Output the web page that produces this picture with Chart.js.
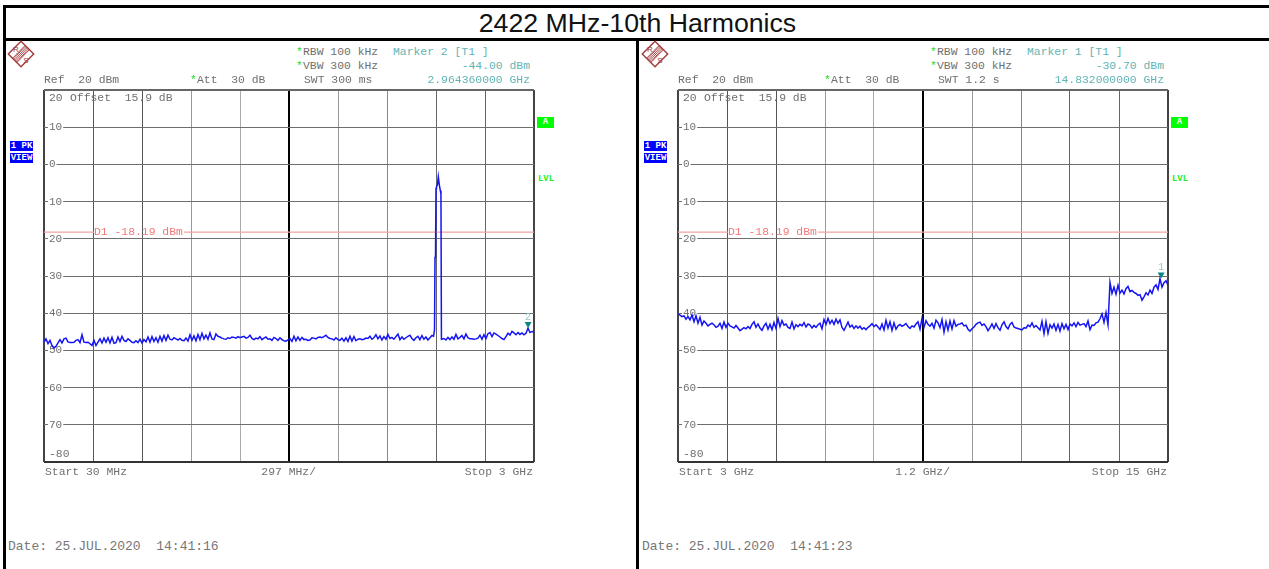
<!DOCTYPE html>
<html>
<head>
<meta charset="utf-8">
<title>2422 MHz-10th Harmonics</title>
<script src="https://cdn.jsdelivr.net/npm/chart.js@4/dist/chart.umd.min.js"></script>
<style>
    html, body { margin: 0; padding: 0; background: #fff; overflow: hidden; }
    #page { position: relative; width: 1269px; height: 569px; overflow: hidden; }
    .bar { position: absolute; background: #000; }
    #title { position: absolute; left: 0; width: 1275px; top: 8px; height: 30px; text-align: center;
        font: 26.7px/31px "Liberation Sans", Arial, sans-serif; color: #111; }
    .txt { position: absolute; white-space: pre; height: 14px; line-height: 14px; font-family: "Liberation Mono", monospace; font-size: 11.4px; color: #707070; }
    .date { font-size: 13px; color: #777; }
    .badge { position: absolute; text-align: center; font: bold 9px/10px "Liberation Mono", monospace; }
    canvas { position: absolute; }
    svg { position: absolute; }
</style>
</head>
<body>
<div id="page">
    <div class="bar" style="left:3px;top:5px;width:1266px;height:3px"></div>
    <div class="bar" style="left:3px;top:38px;width:1266px;height:3px"></div>
    <div class="bar" style="left:3px;top:5px;width:3px;height:564px"></div>
    <div class="bar" style="left:636px;top:38px;width:3px;height:531px"></div>
    <div id="title">2422 MHz-10th Harmonics</div>
</div>
<script>
// level readings in dBm, one every 2 px of the trace

// left sweep, up to the carrier
const leftLowLevels = [
    -47.8,-46.9,-48.2,-47.3,-48.7,-49.4,-48.9,-48.0,-47.1,-48.0,
    -46.9,-46.7,-47.7,-47.9,-47.9,-47.8,-47.3,-47.1,-47.9,-45.8,
    -47.8,-47.9,-47.8,-48.2,-48.7,-47.3,-48.7,-47.8,-46.9,-48.0,
    -46.7,-47.8,-46.6,-48.0,-46.5,-48.1,-47.9,-46.4,-47.6,-46.2,
    -47.3,-47.6,-46.9,-47.3,-47.8,-47.9,-47.4,-47.9,-47.0,-48.0,
    -47.1,-47.7,-46.4,-47.8,-46.3,-47.6,-46.6,-47.8,-46.2,-47.5,
    -46.0,-47.3,-45.9,-47.0,-47.2,-46.6,-46.9,-47.2,-46.8,-47.3,
    -47.4,-46.7,-47.5,-45.8,-47.3,-46.1,-47.4,-45.7,-47.1,-45.4,
    -46.9,-45.9,-47.0,-45.3,-46.9,-47.1,-45.6,-46.2,-46.4,-46.7,
    -46.9,-47.0,-46.6,-46.8,-46.4,-46.5,-46.7,-46.3,-46.6,-46.4,
    -46.2,-46.7,-46.5,-45.9,-46.8,-47.1,-46.7,-46.9,-46.3,-47.1,
    -46.7,-46.4,-47.0,-46.9,-47.3,-46.5,-46.8,-47.3,-46.6,-47.1,
    -47.4,-47.5,-47.2,-46.8,-47.6,-46.2,-47.4,-46.4,-47.3,-46.5,
    -47.1,-47.0,-47.3,-47.2,-46.6,-46.7,-46.9,-46.5,-46.4,-46.6,
    -46.3,-45.9,-46.5,-46.8,-46.9,-47.2,-46.6,-47.1,-47.3,-46.7,
    -47.5,-46.6,-47.6,-46.2,-47.5,-46.3,-47.4,-47.0,-46.9,-47.1,
    -47.0,-46.7,-46.8,-46.2,-47.0,-46.6,-45.8,-46.9,-46.1,-47.2,
    -46.3,-47.0,-45.7,-46.8,-46.5,-47.0,-46.3,-45.6,-47.1,-46.4,
    -47.0,-46.6,-46.2,-45.9,-46.8,-47.3,-46.6,-46.2,-47.1,-46.0,
    -47.0,-46.4,-47.2,-46.6,-46.0
];

// the carrier itself
const peakFreqs = [2391, 2397, 2400, 2403, 2406, 2409, 2414, 2420, 2426, 2432, 2436, 2439];
const peakLevels = [-46.2, -44.5, -25, -24.5, -6.5, -6.0, -5.6, -3.3, -5.5, -7.0, -8.0, -47.0];

// left sweep, above the carrier
const leftHighLevels = [
    -47.0,-46.8,-47.2,-46.5,-47.1,-46.4,-47.0,-45.7,-46.9,-46.5,
    -46.0,-46.9,-45.6,-46.6,-46.9,-46.9,-47.0,-46.9,-46.7,-45.9,
    -47.0,-45.8,-46.8,-45.5,-45.2,-46.3,-45.3,-45.6,-46.0,-46.4,
    -46.8,-47.1,-46.3,-45.4,-45.9,-44.9,-45.3,-45.8,-45.2,-45.7,
    -45.3,-45.8,-45.4,-44.0,-45.2,-44.9,-45.0
];

// right sweep
const rightLevels = [
    -40.2,-40.5,-40.9,-40.7,-41.6,-40.9,-41.8,-40.5,-42.3,-40.7,
    -42.7,-41.1,-43.2,-42.1,-42.7,-43.4,-43.0,-42.7,-43.1,-43.8,
    -43.5,-42.7,-44.1,-42.4,-43.8,-42.7,-43.4,-43.7,-44.0,-43.3,
    -44.0,-44.7,-44.3,-43.9,-44.2,-43.6,-44.1,-43.0,-42.3,-43.8,
    -42.9,-44.0,-44.6,-43.4,-42.7,-44.3,-43.0,-44.4,-42.5,-44.1,
    -41.4,-43.6,-42.0,-43.2,-42.9,-43.8,-44.1,-42.4,-44.2,-43.1,
    -43.6,-43.0,-43.4,-42.5,-43.7,-42.9,-43.2,-44.0,-43.3,-43.8,
    -43.1,-42.7,-44.2,-41.7,-43.0,-41.4,-42.8,-41.9,-43.0,-41.6,
    -42.7,-41.8,-43.8,-44.6,-43.5,-42.4,-43.7,-43.2,-44.1,-43.4,
    -44.0,-43.5,-44.3,-43.9,-44.4,-43.8,-43.4,-42.8,-43.6,-43.1,
    -43.7,-44.4,-42.9,-44.5,-41.9,-44.0,-42.3,-44.6,-42.6,-44.3,
    -43.4,-43.0,-43.5,-43.2,-42.8,-43.6,-44.1,-43.4,-43.7,-42.9,
    -42.3,-44.3,-41.4,-43.8,-42.0,-43.0,-43.5,-42.7,-44.0,-41.9,
    -42.6,-43.9,-41.7,-45.1,-42.3,-44.5,-42.1,-44.2,-42.0,-43.5,
    -43.0,-42.9,-42.6,-43.4,-43.2,-44.3,-44.8,-44.2,-43.7,-43.0,
    -42.6,-42.4,-43.3,-42.9,-43.6,-44.7,-43.9,-42.9,-44.1,-42.8,
    -43.9,-44.6,-43.1,-42.3,-43.6,-44.2,-43.0,-42.5,-43.7,-44.0,
    -44.1,-44.3,-44.5,-43.9,-44.0,-43.2,-43.6,-42.6,-43.8,-43.3,
    -43.9,-44.5,-42.2,-45.5,-42.3,-45.4,-43.1,-44.0,-42.9,-44.6,
    -43.0,-44.8,-42.8,-44.2,-43.0,-44.4,-42.9,-43.4,-42.6,-43.6,
    -42.5,-43.2,-43.0,-42.8,-43.6,-42.1,-44.4,-43.2,-43.3,-42.6,
    -42.4,-41.5,-40.2,-42.5,-39.8,-43.1,
    -31.7,-34.7,-33.0,-34.9,-32.5,-34.6,-33.8,-34.8,-33.4,-32.8,
    -34.2,-33.9,-34.4,-34.7,-35.2,-35.0,-36.5,-35.6,-34.5,-35.1,
    -33.8,-34.7,-33.0,-32.4,-33.6,-30.7,-33.0,-31.8,-31.3,-32.4
];

const yTickLabels = ['', '70', '60', '50', '40', '30', '20', '10', '0', '10', ''];
const displayLine = -18.19;

// helpers
const page = document.getElementById('page');

const addText = (x, y, str, color, cls) => {
    const el = document.createElement('div');
    el.className = 'txt' + (cls ? ' ' + cls : '');
    el.textContent = str;
    el.style.left = x + 'px';
    el.style.top = (y - 6) + 'px';
    if (color) el.style.color = color;
    page.appendChild(el);
    return el;
};

const addRight = (x, y, str, color) => {
    const el = addText(0, y, str, color);
    el.style.left = 'auto';
    el.style.right = (1269 - x) + 'px';
};

const addBadge = (x, y, w, h, str, bg, color) => {
    const el = document.createElement('div');
    el.className = 'badge';
    el.textContent = str;
    el.style.cssText += `left:${x}px;top:${y}px;width:${w}px;height:${h}px;line-height:${h}px;background:${bg};color:${color}`;
    page.appendChild(el);
};

const addLogo = (dx) => {
    const ns = 'http://www.w3.org/2000/svg';
    const svg = document.createElementNS(ns, 'svg');
    svg.setAttribute('width', 30);
    svg.setAttribute('height', 30);
    svg.style.left = (6 + dx) + 'px';
    svg.style.top = '39px';
    let stripes = '';
    for (let i = -9; i <= 9; i += 1.5) {
        stripes += `<line x1="${i}" y1="-3" x2="${i}" y2="3"/>`;
    }
    svg.innerHTML = `<g transform="translate(15 15) rotate(-45)" stroke="#a33a3a" fill="none">
        <rect x="-9" y="-9" width="18" height="18" stroke-width="1.4" fill="#fff"/>
        <g stroke-width="0.9">${stripes}</g>
        <line x1="-9" y1="-3" x2="9" y2="-3" stroke-width="0.8"/>
        <line x1="-9" y1="3" x2="9" y2="3" stroke-width="0.8"/>
    </g>
    <text x="10" y="13" font-size="8" font-family="Liberation Sans" fill="#a33a3a" text-anchor="middle">R</text>
    <text x="20" y="24" font-size="8" font-family="Liberation Sans" fill="#a33a3a" text-anchor="middle">S</text>`;
    page.appendChild(svg);
};

// draws the marker triangle with its tip on the reading, number above
const markerPlugin = {
    id: 'marker',
    afterDatasetsDraw(chart, args, opts) {
        const x = chart.scales.x.getPixelForValue(opts.freq);
        const y = chart.scales.y.getPixelForValue(opts.level);
        const ctx = chart.ctx;
        ctx.save();
        ctx.fillStyle = '#0b8585';
        ctx.beginPath();
        ctx.moveTo(x, y);
        ctx.lineTo(x - 3.5, y - 6);
        ctx.lineTo(x + 3.5, y - 6);
        ctx.closePath();
        ctx.fill();
        ctx.fillStyle = '#8fcaca';
        ctx.font = '10px "Liberation Mono"';
        ctx.textAlign = 'center';
        ctx.textBaseline = 'middle';
        ctx.fillText(opts.name, x, y - 11);
        ctx.restore();
    }
};

const noAxisPadding = (scale) => {
    scale.paddingTop = 0;
    scale.paddingBottom = 0;
    scale.paddingLeft = 0;
    scale.paddingRight = 0;
};

const showSweep = (cfg) => {
    const dx = cfg.dx;
    const canvas = document.createElement('canvas');
    canvas.width = 500;
    canvas.height = 382;
    canvas.style.left = (40 + dx) + 'px';
    canvas.style.top = '86px';
    page.appendChild(canvas);

    const vColors = ['#444', '#555', '#555', '#999', '#aaa', '#000', '#999', '#888', '#666', '#666', '#444'];

    new Chart(canvas, {
        type: 'line',
        plugins: [markerPlugin],
        data: {
            datasets: [
                {
                    data: cfg.trace,
                    borderColor: '#1414f5',
                    borderWidth: 1.5,
                    pointRadius: 0,
                    tension: 0,
                    order: 1
                },
                {
                    data: cfg.d1,
                    borderColor: '#f3a3a3',
                    borderWidth: 1.2,
                    pointRadius: 0,
                    spanGaps: false,
                    order: 2
                }
            ]
        },
        options: {
            responsive: false,
            animation: false,
            layout: { padding: { left: 4, top: 4, right: 6, bottom: 6 } },
            plugins: {
                legend: { display: false },
                title: { display: false },
                tooltip: { enabled: false },
                marker: { freq: cfg.markerFreq, level: cfg.markerLevel, name: cfg.markerName }
            },
            scales: {
                x: {
                    type: 'linear',
                    min: cfg.start,
                    max: cfg.stop,
                    afterFit: (scale) => { scale.height = 0; noAxisPadding(scale); },
                    border: { display: false },
                    ticks: { display: false, count: 11 },
                    grid: {
                        drawTicks: false,
                        color: (ctx) => vColors[ctx.index],
                        lineWidth: (ctx) => (ctx.index === 0 || ctx.index === 5 || ctx.index === 10) ? 2 : 1
                    }
                },
                y: {
                    min: -80,
                    max: 20,
                    afterFit: (scale) => { scale.width = 0; noAxisPadding(scale); },
                    border: { display: false },
                    ticks: {
                        stepSize: 10,
                        autoSkip: false,
                        mirror: true,
                        padding: 5,
                        color: '#707070',
                        font: { family: 'Liberation Mono', size: 11 },
                        showLabelBackdrop: (ctx) => yTickLabels[ctx.index] !== '',
                        backdropColor: '#fff',
                        backdropPadding: { left: 1, right: 1, top: 0, bottom: 0 },
                        callback: (value, index) => yTickLabels[index]
                    },
                    grid: {
                        drawTicks: false,
                        color: (ctx) => ctx.index === 0 ? '#333' : (ctx.index === 10 ? '#666' : '#6e6e6e'),
                        lineWidth: (ctx) => (ctx.index === 0 || ctx.index === 10) ? 2 : 1
                    }
                }
            }
        }
    });

    // header and footer readouts
    addLogo(dx);
    addText(296 + dx, 51, '*', '#22dd22');
    addText(303 + dx, 51, 'RBW 100 kHz');
    addText(393 + dx, 51, cfg.markerTitle, '#62b4b4');
    addText(296 + dx, 65, '*', '#22dd22');
    addText(303 + dx, 65, 'VBW 300 kHz');
    addRight(530 + dx, 65, cfg.markerDbm, '#62b4b4');
    addText(44 + dx, 79, 'Ref  20 dBm');
    addText(190 + dx, 79, '*', '#22dd22');
    addText(197 + dx, 79, 'Att  30 dB');
    addText(304 + dx, 79, cfg.swt);
    addRight(530 + dx, 79, cfg.markerFreqText, '#62b4b4');
    addText(49 + dx, 97, '20');
    addText(70 + dx, 97, 'Offset  15.9 dB');
    addText(49 + dx, 453, '-80');
    addText(94 + dx, 231, 'D1 -18.19 dBm', '#f27878');
    addText(45 + dx, 471, cfg.startText);
    addRight(316 + dx, 471, cfg.divText);
    addRight(533 + dx, 471, cfg.stopText);
    addText(8 + dx, 546, cfg.dateText, null, 'date');
    addBadge(10 + dx, 141, 23, 10, '1 PK', '#0000ff', '#fff');
    addBadge(10 + dx, 153, 23, 10, 'VIEW', '#0000ff', '#fff');
    addBadge(537 + dx, 117, 17, 11, 'A', '#00ff00', '#fff');
    addBadge(537 + dx, 174, 18, 10, 'LVL', '#fff', '#22ee22');
};

// build the {x, y} points
const stepTrace = (levels, first, step) => levels.map((v, i) => ({ x: first + i * step, y: v }));

const leftTrace = [
    ...stepTrace(leftLowLevels, 30, 12.12),
    ...peakFreqs.map((f, i) => ({ x: f, y: peakLevels[i] })),
    ...stepTrace(leftHighLevels, 2442, 12.13)
];
const rightTrace = stepTrace(rightLevels, 3, 12 / 245);

const d1Points = (start, from, to, stop) => [
    { x: start, y: displayLine }, { x: from, y: displayLine }, { x: from, y: null },
    { x: to, y: null }, { x: to, y: displayLine }, { x: stop, y: displayLine }
];

showSweep({
    dx: 0, start: 30, stop: 3000, trace: leftTrace, d1: d1Points(30, 333, 879, 3000),
    markerFreq: 2964.36, markerLevel: -44.0, markerName: '2',
    markerTitle: 'Marker 2 [T1 ]', markerDbm: '-44.00 dBm', markerFreqText: '2.964360000 GHz',
    swt: 'SWT 300 ms', startText: 'Start 30 MHz', divText: '297 MHz/', stopText: 'Stop 3 GHz',
    dateText: 'Date: 25.JUL.2020  14:41:16'
});

showSweep({
    dx: 634, start: 3, stop: 15, trace: rightTrace, d1: d1Points(3, 4.22, 6.43, 15),
    markerFreq: 14.832, markerLevel: -30.7, markerName: '1',
    markerTitle: 'Marker 1 [T1 ]', markerDbm: '-30.70 dBm', markerFreqText: '14.832000000 GHz',
    swt: 'SWT 1.2 s', startText: 'Start 3 GHz', divText: '1.2 GHz/', stopText: 'Stop 15 GHz',
    dateText: 'Date: 25.JUL.2020  14:41:23'
});
</script>
</body>
</html>
